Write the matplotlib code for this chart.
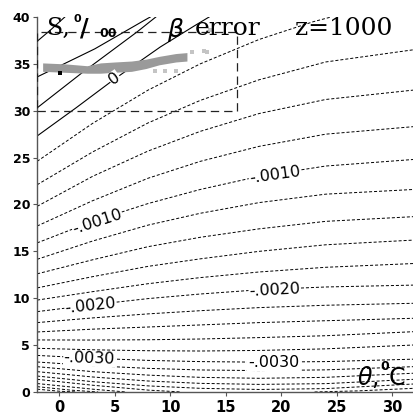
import numpy as np
import matplotlib.pyplot as plt
from matplotlib.patches import Rectangle

plt.rcParams['lines.scale_dashes'] = False

theta_cols = [-2, 3, 8, 12.7, 18, 24, 31.9]

# negative isolines (dashed): salinity along each line at theta_cols
neg_levels = [-0.0004, -0.0006, -0.0008, -0.0010, -0.0012, -0.0014, -0.0016,
              -0.0018, -0.0020, -0.0022, -0.0024, -0.0026, -0.0028, -0.0030,
              -0.0032, -0.0034, -0.0036, -0.0038]
neg_s = [
    [22.1, 25.6, 28.7, 31.1, 33.3, 35.2, 36.5],
    [19.8, 23.0, 25.7, 27.8, 29.7, 31.2, 32.2],
    [17.7, 20.4, 22.8, 24.6, 26.2, 27.5, 28.3],
    [15.9, 18.2, 20.1, 21.6, 23.0, 24.1, 24.8],
    [14.15, 16.1, 17.8, 19.06, 20.2, 21.1, 21.6],
    [12.6, 14.1, 15.5, 16.5, 17.4, 18.2, 18.7],
    [11.1, 12.3, 13.4, 14.2, 15.0, 15.7, 16.2],
    [9.8, 10.7, 11.55, 12.2, 12.8, 13.3, 13.7],
    [8.57, 9.3, 9.96, 10.45, 10.9, 11.2, 11.4],
    [7.4, 7.9, 8.33, 8.67, 9.0, 9.25, 9.46],
    [6.4, 6.7, 6.93, 7.15, 7.4, 7.6, 7.86],
    [5.55, 5.54, 5.57, 5.65, 5.8, 6.0, 6.43],
    [4.66, 4.5, 4.4, 4.37, 4.43, 4.6, 5.01],
    [3.9, 3.6, 3.37, 3.24, 3.18, 3.24, 3.5],
    [3.2, 2.8, 2.52, 2.35, 2.28, 2.36, 2.7],
    [2.7, 2.17, 1.8, 1.56, 1.46, 1.56, 2.0],
    [2.17, 1.6, 1.17, 0.92, 0.81, 0.89, 1.35],
    [1.7, 1.1, 0.65, 0.39, 0.27, 0.36, 0.85],
]

# short dashed isolines that leave the plot
m0002_theta = [-2, 3, 8, 12.7, 18, 22.9, 24.5]
m0002_s = [24.6, 28.65, 32.2, 35.0, 37.6, 39.5, 40.0]
m0040_theta = [-2, 3, 8, 11]
m0040_s = [1.35, 0.72, 0.2, 0.0]
m0040r_theta = [23, 27, 31.9]
m0040r_s = [0.0, 0.12, 0.39]
m0042_theta = [-2, 3, 6]
m0042_s = [0.9, 0.3, 0.0]
m0044_theta = [-2, 1, 3.5]
m0044_s = [0.57, 0.2, 0.0]
m0046_theta = [-2, 0, 1.5]
m0046_s = [0.3, 0.08, 0.0]

# zero and positive isolines (solid)
z0_theta = [-2, 1.5, 5.0, 9.1, 12.1, 13.5]
z0_s = [27.3, 30.3, 33.4, 36.8, 39.0, 40.0]
p0002_theta = [-2, 2, 7, 8.7]
p0002_s = [30.3, 34.0, 38.4, 40.0]
p0004_theta = [-2, 3.2, 7.6, 8.2]
p0004_s = [33.6, 36.6, 39.6, 40.0]
p0006_theta = [-2, -0.8, 0.5]
p0006_s = [37.4, 38.6, 40.0]

# isoline labels: text, theta, S, angle
lab_text = ['-.0010', '-.0010', '-.0020', '-.0020', '-.0030', '-.0030', '0']
lab_theta = [3.4, 19.4, 2.8, 19.4, 2.7, 19.3, 5.0]
lab_s = [18.2, 23.2, 9.2, 10.9, 3.55, 3.1, 33.4]
lab_rot = [18, 8, 6, 3, -2, 0, 36]

# T-S cloud of observations
blob_theta = [-1.5, 0.5, 2.5, 3.7, 5.0, 6.5, 7.8, 9.0, 10.5, 11.5]
blob_top = [35.1, 35.0, 34.8, 35.1, 35.2, 35.3, 35.5, 35.8, 36.1, 36.2]
blob_bot = [34.2, 34.1, 34.0, 34.0, 34.1, 34.2, 34.5, 34.9, 35.2, 35.3]
speck_theta = [8.6, 9.5, 10.5, 12.0, 13.0, 13.3, 13.6]
speck_s = [34.2, 34.2, 34.25, 36.3, 36.4, 36.3, 38.6]

fig = plt.figure(figsize=(4.13, 4.17), dpi=100)
ax = fig.add_axes([0.0898, 0.0600, 0.9138, 0.8993])

dash = (0, (2.2, 1.4))
kw_d = dict(color='black', lw=0.7, linestyle=dash)
kw_s = dict(color='black', lw=0.8)

for row in neg_s:
    ax.plot(theta_cols, row, **kw_d)
for th, s in [(m0002_theta, m0002_s), (m0040_theta, m0040_s), (m0040r_theta, m0040r_s),
              (m0042_theta, m0042_s), (m0044_theta, m0044_s), (m0046_theta, m0046_s)]:
    ax.plot(th, s, **kw_d)
for th, s in [(z0_theta, z0_s), (p0002_theta, p0002_s), (p0004_theta, p0004_s),
              (p0006_theta, p0006_s)]:
    ax.plot(th, s, **kw_s)

ax.fill_between(blob_theta, blob_bot, blob_top, color='#9a9a9a', lw=0, zorder=3)
ax.scatter(speck_theta, speck_s, s=6, marker='s', color='#c4c4c4', lw=0, zorder=3)
ax.scatter([0.06], [34.06], s=6, marker='s', color='black', lw=0, zorder=3)

ax.add_patch(Rectangle((-2, 30), 18, 8.4, fill=False, edgecolor='#222222', lw=0.9,
                       linestyle=(0, (6, 3.6)), zorder=4))

for t, x, y, r in zip(lab_text, lab_theta, lab_s, lab_rot):
    ax.text(x, y, t, fontsize=11.5, family='DejaVu Sans', rotation=r,
            rotation_mode='anchor', ha='center', va='center', zorder=5,
            bbox=dict(facecolor='white', edgecolor='none', pad=0.3))

# axis titles drawn inside the frame
ax.text(-1.1, 38.1, 'S,', fontsize=17, family='DejaVu Serif', zorder=6, clip_on=False)
ax.text(1.3, 39.5, '0', fontsize=8, weight='bold', zorder=6, clip_on=False)
ax.text(1.9, 38.0, '/', fontsize=17, weight='bold', zorder=6, clip_on=False)
ax.text(3.6, 37.9, '00', fontsize=9, weight='bold', zorder=6, clip_on=False)
ax.text(9.7, 37.9, r'$\beta$', fontsize=18, zorder=6, clip_on=False)
ax.text(12.2, 38.1, 'error', fontsize=18, family='DejaVu Serif', zorder=6, clip_on=False)
ax.text(21.2, 38.1, 'z=1000', fontsize=18, family='DejaVu Serif', zorder=6, clip_on=False)
ax.text(26.8, 0.75, r'$\theta$,', fontsize=17, zorder=6)
ax.text(28.9, 2.3, '0', fontsize=9, weight='bold', zorder=6)
ax.text(29.7, 0.75, 'C', fontsize=17, family='DejaVu Sans', zorder=6)

ax.set_xlim(-2, 32)
ax.set_ylim(0, 40)
ax.set_xticks([0, 5, 10, 15, 20, 25, 30])
ax.set_yticks([0, 5, 10, 15, 20, 25, 30, 35, 40])
for s in ['top', 'right']:
    ax.spines[s].set_visible(False)
for s in ['left', 'bottom']:
    ax.spines[s].set_color('#555555')
    ax.spines[s].set_linewidth(1.0)
ax.tick_params(axis='x', length=3, pad=2.5, labelsize=10.5, color='#555555')
ax.tick_params(axis='y', length=3, pad=2, labelsize=9, color='#555555')
for lab in ax.get_xticklabels() + ax.get_yticklabels():
    lab.set_fontweight('bold')

fig.savefig('out.png', dpi=100)
